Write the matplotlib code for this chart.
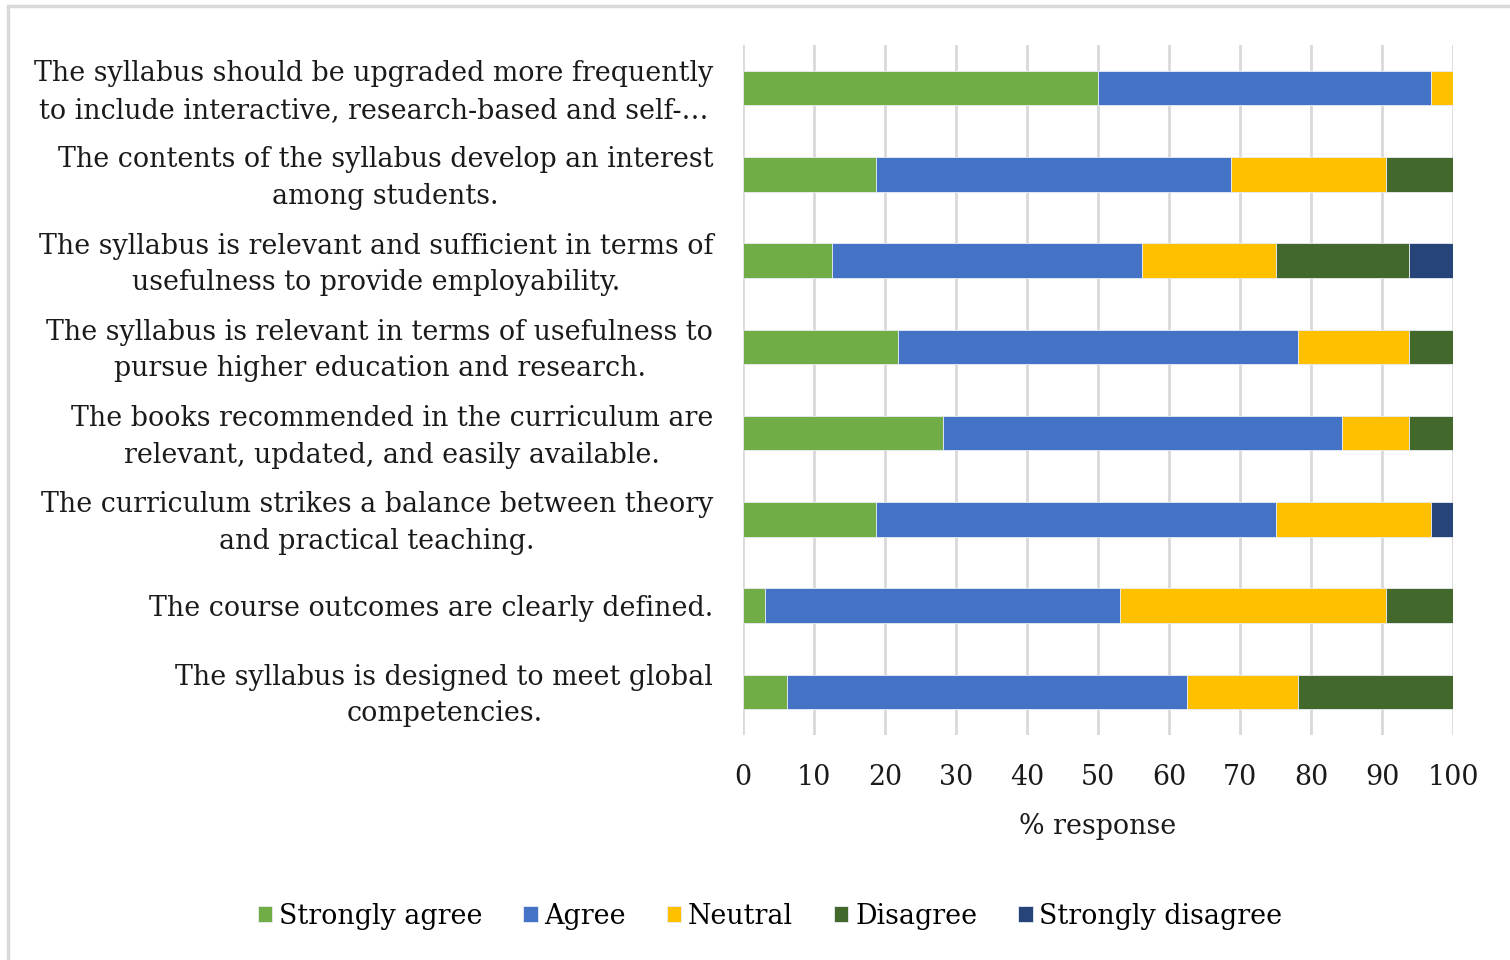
import matplotlib
matplotlib.use("Agg")
import matplotlib.pyplot as plt
from matplotlib.patches import Rectangle
from matplotlib.transforms import ScaledTranslation
import numpy as np

categories = [
    "The syllabus should be upgraded more frequently\nto include interactive, research-based and self-…",
    "The contents of the syllabus develop an interest\namong students.",
    "The syllabus is relevant and sufficient in terms of\nusefulness to provide employability.",
    "The syllabus is relevant in terms of usefulness to\npursue higher education and research.",
    "The books recommended in the curriculum are\nrelevant, updated, and easily available.",
    "The curriculum strikes a balance between theory\nand practical teaching.",
    "The course outcomes are clearly defined.",
    "The syllabus is designed to meet global\ncompetencies.",
]
series_names = ["Strongly agree", "Agree", "Neutral", "Disagree", "Strongly disagree"]
strongly_agree    = [50.0, 18.75, 12.5, 21.875, 28.125, 18.75, 3.125, 6.25]
agree             = [46.875, 50.0, 43.75, 56.25, 56.25, 56.25, 50.0, 56.25]
neutral           = [3.125, 21.875, 18.75, 15.625, 9.375, 21.875, 37.5, 15.625]
disagree          = [0.0, 9.375, 18.75, 6.25, 6.25, 0.0, 9.375, 21.875]
strongly_disagree = [0.0, 0.0, 6.25, 0.0, 0.0, 3.125, 0.0, 0.0]
xticks = [0, 10, 20, 30, 40, 50, 60, 70, 80, 90, 100]
colors = ["#70AD47", "#4472C4", "#FFC000", "#43682B", "#264478"]

FONT = "DejaVu Serif"
FS = 19.4

fig = plt.figure(figsize=(15.1, 9.6), dpi=100)
ax = fig.add_axes([743/1510, 1-735/960, 710/1510, 690/960])

y = np.arange(len(categories))
left = np.zeros(len(categories))
for name, vals, c in zip(series_names,
                         [strongly_agree, agree, neutral, disagree, strongly_disagree],
                         colors):
    vals = np.array(vals)
    ax.barh(y, vals, left=left, height=0.4, color=c, label=name,
            edgecolor="#e8ecf5", linewidth=0.6, zorder=3)
    left += vals

ax.set_xlim(0, 100)
ax.set_ylim(len(categories) - 0.5, -0.5)
ax.set_xticks(xticks)
ax.set_xticklabels([str(t) for t in xticks], fontfamily=FONT, fontsize=FS)
ax.set_yticks(y)
ax.set_yticklabels(categories, fontfamily=FONT, fontsize=FS)
ax.tick_params(axis="both", length=0, colors="#1a1a1a")
ax.tick_params(axis="x", pad=21)
ax.tick_params(axis="y", pad=21.5)
for t in ax.get_yticklabels():
    t.set_multialignment("center")
    t.set_linespacing(1.45)
    if "\n" in t.get_text():
        t.set_transform(t.get_transform() + ScaledTranslation(0, 4/100, fig.dpi_scale_trans))
ax.grid(axis="x", color="#d9d9d9", linewidth=2, zorder=0)
ax.grid(axis="y", visible=False)
for s in ax.spines.values():
    s.set_visible(False)
ax.set_xlabel("% response", fontfamily=FONT, fontsize=FS, labelpad=16, color="#1a1a1a")

handles, labels = ax.get_legend_handles_labels()
leg = fig.legend(handles, labels, loc="center", bbox_to_anchor=(770/1510, 1-916/960),
                 ncol=5, frameon=False, handlelength=0.55, handleheight=0.55,
                 handletextpad=0.25, columnspacing=1.5,
                 prop={"family": FONT, "size": FS})

fig.patches.append(Rectangle((8/1510, -0.1), 1.1, (960-6)/960 + 0.1,
                             transform=fig.transFigure, fill=False,
                             edgecolor="#d9d9d9", linewidth=2.5))

fig.savefig("out.png", dpi=100)
